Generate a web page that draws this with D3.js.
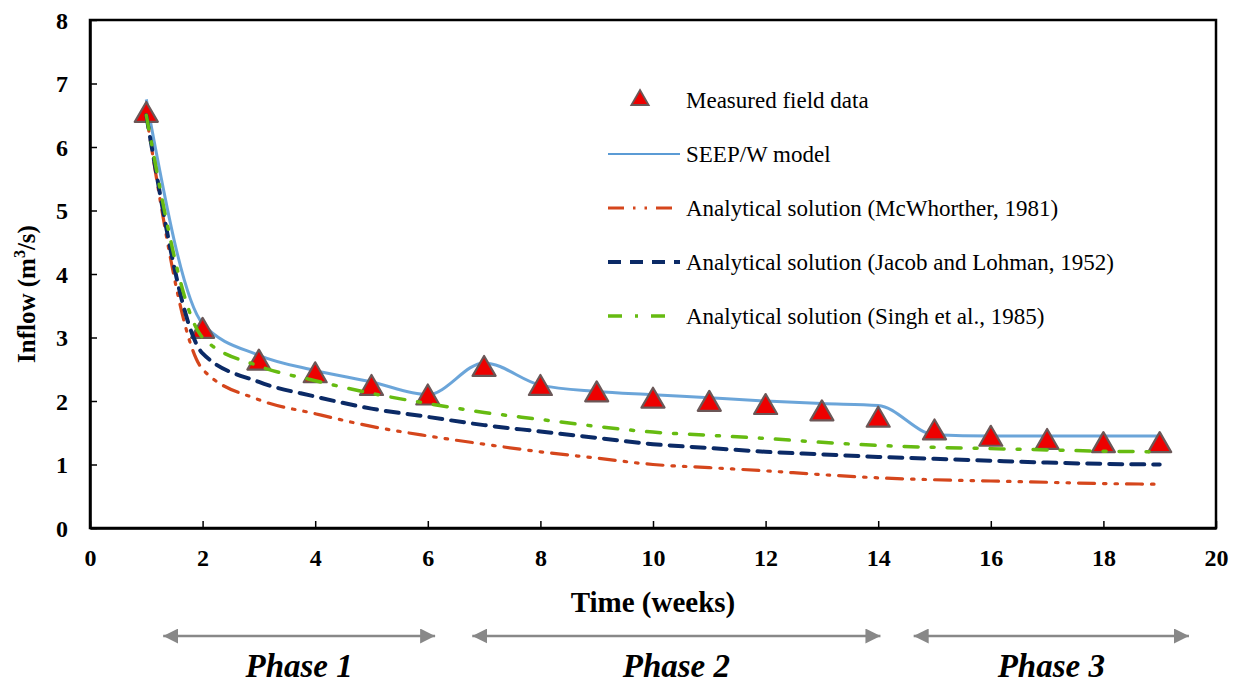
<!DOCTYPE html>
<html>
<head>
<meta charset="utf-8">
<script src="https://cdn.jsdelivr.net/npm/d3@7"></script>
<style>
  body { margin: 0; background: #fff; }
</style>
</head>
<body>
<div id="chart"></div>
<script>
// data (weeks 1..19)
const weeks = [1, 2, 3, 4, 5, 6, 7, 8, 9, 10, 11, 12, 13, 14, 15, 16, 17, 18, 19];
const measured = [6.5, 3.1, 2.6, 2.4, 2.2, 2.05, 2.5, 2.2, 2.1, 2.0, 1.95, 1.9, 1.8, 1.7, 1.5, 1.4, 1.35, 1.3, 1.3];
const seepW = [6.75, 3.22, 2.72, 2.48, 2.3, 2.1, 2.6, 2.25, 2.15, 2.1, 2.05, 2.0, 1.96, 1.93, 1.47, 1.45, 1.45, 1.45, 1.45];
const mcWhorther = [6.5, 2.5, 2.02, 1.8, 1.6, 1.45, 1.32, 1.2, 1.1, 1.0, 0.95, 0.9, 0.84, 0.79, 0.76, 0.74, 0.72, 0.7, 0.69];
const jacob = [6.5, 2.75, 2.3, 2.07, 1.88, 1.75, 1.62, 1.52, 1.42, 1.32, 1.26, 1.2, 1.16, 1.12, 1.09, 1.06, 1.03, 1.01, 1.0];
const singh = [6.5, 3.0, 2.55, 2.32, 2.12, 1.96, 1.82, 1.71, 1.6, 1.51, 1.46, 1.41, 1.35, 1.3, 1.27, 1.25, 1.23, 1.21, 1.2];

const xTicks = [0, 2, 4, 6, 8, 10, 12, 14, 16, 18, 20];
const yTicks = [0, 1, 2, 3, 4, 5, 6, 7, 8];

const phases = [
  { label: "Phase 1", from: 1.3, to: 6.13 },
  { label: "Phase 2", from: 6.79, to: 14.04 },
  { label: "Phase 3", from: 14.63, to: 19.52 }
];

const series = [
  { name: "SEEP/W model", values: seepW, color: "#5b9bd5", width: 3, dash: null },
  { name: "Analytical solution (McWhorther, 1981)", values: mcWhorther, color: "#d5461c", width: 3.2, dash: "16,9,2.5,9,2.5,9" },
  { name: "Analytical solution (Jacob and Lohman, 1952)", values: jacob, color: "#0b2a66", width: 4, dash: "13,9" },
  { name: "Analytical solution (Singh et al., 1985)", values: singh, color: "#66bb11", width: 3.5, dash: "14,13,3,13" }
];

const FONT = "'Liberation Serif', serif";

const W = 1236, H = 690;
const margin = { top: 20, right: 20, bottom: 162, left: 90 };
const width = W - margin.left - margin.right;   // 1126
const height = H - margin.top - margin.bottom;  // 508

const svg = d3.select("#chart").append("svg")
  .attr("width", W)
  .attr("height", H);

const g = svg.append("g")
  .attr("transform", `translate(${margin.left},${margin.top})`);

const x = d3.scaleLinear().domain([0, 20]).range([0, width]);
const y = d3.scaleLinear().domain([0, 8]).range([height, 0]);

// frame
g.append("rect")
  .attr("width", width)
  .attr("height", height)
  .attr("fill", "none")
  .attr("stroke", "#000")
  .attr("stroke-width", 2.5);

// axes with inward ticks
const xAxis = g.append("g")
  .attr("transform", `translate(0,${height})`)
  .call(d3.axisBottom(x).tickValues(xTicks).tickSizeInner(-7).tickSizeOuter(0).tickPadding(21));
const yAxis = g.append("g")
  .call(d3.axisLeft(y).tickValues(yTicks).tickSizeInner(-7).tickSizeOuter(0).tickPadding(22));

[xAxis, yAxis].forEach(ax => {
  ax.select(".domain").attr("stroke-width", 2.5);
  ax.selectAll(".tick line").attr("stroke-width", 1.5);
  ax.selectAll(".tick text")
    .style("font-family", FONT)
    .style("font-weight", "bold")
    .style("font-size", "24px")
    .attr("fill", "#000");
});
yAxis.selectAll(".tick text").attr("dy", "0.35em");

// axis titles
g.append("text")
  .attr("x", width / 2)
  .attr("y", height + 84)
  .attr("text-anchor", "middle")
  .style("font-family", FONT)
  .style("font-weight", "bold")
  .style("font-size", "29px")
  .text("Time (weeks)");

const yLab = g.append("text")
  .attr("transform", `translate(${-55},${height / 2 + 20}) rotate(-90)`)
  .attr("text-anchor", "middle")
  .style("font-family", FONT)
  .style("font-weight", "bold")
  .style("font-size", "25px");
yLab.append("tspan").text("Inflow (m");
yLab.append("tspan").style("font-size", "16px").attr("dy", -10).text("3");
yLab.append("tspan").attr("dy", 10).text("/s)");

const line = vals => d3.line()
  .x((d, i) => x(weeks[i]))
  .y(d => y(d))
  .curve(d3.curveMonotoneX)(vals);

// SEEP/W under markers
g.append("path")
  .attr("d", line(seepW))
  .attr("fill", "none")
  .attr("stroke", series[0].color)
  .attr("stroke-width", series[0].width)
  .attr("opacity", 0.9);

// measured triangles
const tri = d3.symbol().type(d3.symbolTriangle).size(230);
g.selectAll(".meas")
  .data(measured)
  .enter()
  .append("path")
  .attr("class", "meas")
  .attr("d", tri)
  .attr("transform", (d, i) => `translate(${x(weeks[i])},${y(d)})`)
  .attr("fill", "#ee0000")
  .attr("stroke", "#6b5757")
  .attr("stroke-width", 2.2)
  .attr("stroke-linejoin", "round");

// analytical solutions on top
series.slice(1).forEach(s => {
  g.append("path")
    .attr("d", line(s.values))
    .attr("fill", "none")
    .attr("stroke", s.color)
    .attr("stroke-width", s.width)
    .attr("stroke-dasharray", s.dash)
    .attr("stroke-linecap", "round");
});

// legend
const leg = svg.append("g").attr("transform", "translate(608,100)");
leg.append("path")
  .attr("d", d3.symbol().type(d3.symbolTriangle).size(130))
  .attr("transform", "translate(32,0)")
  .attr("fill", "#ee0000")
  .attr("stroke", "#6b5757")
  .attr("stroke-width", 1.8);
leg.append("text")
  .attr("x", 78).attr("y", 0).attr("dy", "0.35em")
  .style("font-family", FONT)
  .style("font-size", "23px")
  .text("Measured field data");

series.forEach((s, i) => {
  const yy = 54 + i * 54;
  leg.append("line")
    .attr("x1", 0).attr("x2", i === 3 ? 60 : 72)
    .attr("y1", yy).attr("y2", yy)
    .attr("stroke", s.color)
    .attr("stroke-width", i === 0 ? 2 : s.width)
    .attr("stroke-dasharray", s.dash);
  leg.append("text")
    .attr("x", 78).attr("y", yy).attr("dy", "0.35em")
    .style("font-family", FONT)
    .style("font-size", "23px")
    .text(s.name);
});

// phase arrows
const defs = svg.append("defs");
defs.append("marker")
  .attr("id", "ah")
  .attr("viewBox", "0 0 10 10")
  .attr("refX", 10).attr("refY", 5)
  .attr("markerWidth", 6).attr("markerHeight", 6)
  .attr("markerUnits", "strokeWidth")
  .attr("orient", "auto-start-reverse")
  .append("path")
  .attr("d", "M0,0 L10,5 L0,10 Z")
  .attr("fill", "#888");

const ph = g.append("g").attr("transform", `translate(0,${height + 108})`);
phases.forEach(p => {
  ph.append("line")
    .attr("x1", x(p.from)).attr("x2", x(p.to))
    .attr("y1", 0).attr("y2", 0)
    .attr("stroke", "#888")
    .attr("stroke-width", 2.5)
    .attr("marker-start", "url(#ah)")
    .attr("marker-end", "url(#ah)");
  ph.append("text")
    .attr("x", x((p.from + p.to) / 2))
    .attr("y", 41)
    .attr("text-anchor", "middle")
    .style("font-family", FONT)
    .style("font-weight", "bold")
    .style("font-style", "italic")
    .style("font-size", "33px")
    .text(p.label);
});
</script>
</body>
</html>
